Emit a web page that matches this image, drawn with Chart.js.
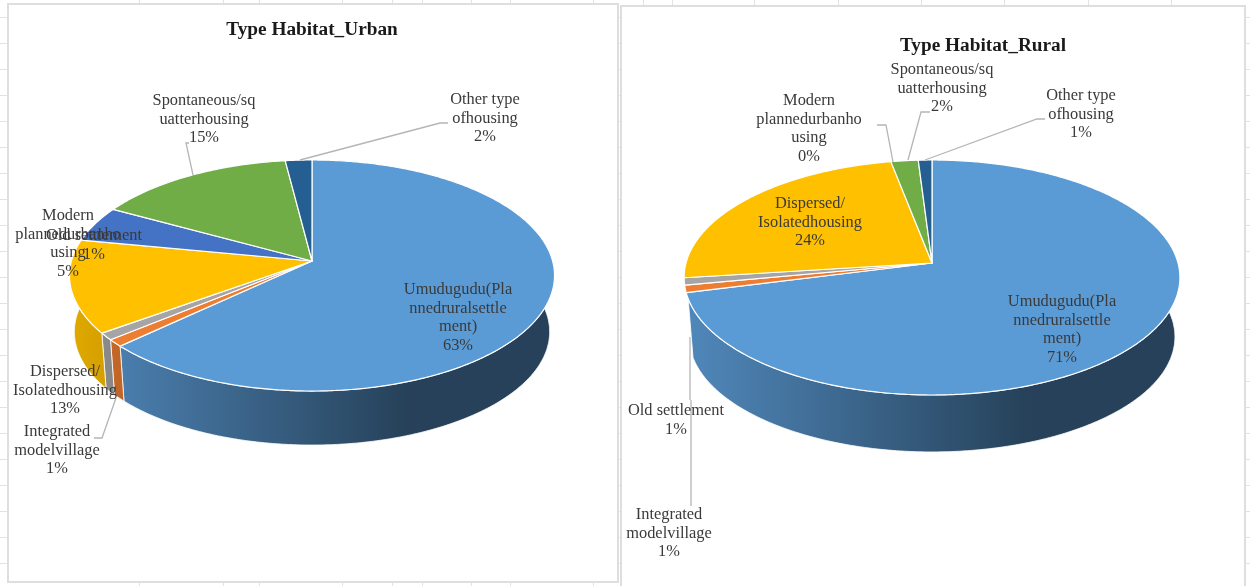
<!DOCTYPE html>
<html>
<head>
<meta charset="utf-8">
<title>Type Habitat</title>
<script src="https://cdn.jsdelivr.net/npm/chart.js@4"></script>
<style>
  html, body { margin: 0; padding: 0; background: #fff; overflow: hidden; }
  #sheet { position: relative; width: 1250px; height: 586px; overflow: hidden; }
  .tick-h { position: absolute; left: 0; width: 1250px; height: 1px; background: #e2e2e2; }
  .tick-v { position: absolute; top: 0; width: 1px; height: 586px; background: #e2e2e2; }
  .panel { position: absolute; background: #fff; box-shadow: 0 0 0 2px #dedede; }
  .panel canvas { display: block; }
  #urban-panel { left: 9px; top: 5px; width: 608px; height: 576px; }
  #rural-panel { left: 622px; top: 7px; width: 622px; height: 590px; }
</style>
</head>
<body>
<div id="sheet">
  <div class="panel" id="urban-panel"><canvas id="urban-chart" width="608" height="576"></canvas></div>
  <div class="panel" id="rural-panel"><canvas id="rural-chart" width="622" height="590"></canvas></div>
</div>
<script>
const categories = [
  ["Umudugudu(Pla", "nnedruralsettle", "ment)"],
  ["Integrated", "modelvillage"],
  ["Old settlement"],
  ["Dispersed/", "Isolatedhousing"],
  ["Modern", "plannedurbanho", "using"],
  ["Spontaneous/sq", "uatterhousing"],
  ["Other type", "ofhousing"],
];
const urbanValues = [63, 1, 1, 13, 5, 15, 2];
const ruralValues = [71, 1, 1, 24, 0, 2, 1];
const sliceColors = ["#5B9BD5", "#ED7D31", "#A5A5A5", "#FFC000", "#4472C4", "#70AD47", "#255E91"];

const FONT = '"Liberation Serif", serif';
const LABEL_SIZE = 16.4;
const LINE_HEIGHT = 18.6;

// spreadsheet gridlines that show around the two chart panels
const sheet = document.getElementById("sheet");
for (let y = 17; y < 586; y += 26) {
  const line = document.createElement("div");
  line.className = "tick-h";
  line.style.top = y + "px";
  sheet.prepend(line);
}
[139, 223, 259, 342, 392, 422, 471, 510, 593, 643, 672, 754, 838, 921, 1004, 1088, 1171].forEach((x) => {
  const line = document.createElement("div");
  line.className = "tick-v";
  line.style.left = x + "px";
  sheet.prepend(line);
});

function shade(hex, f) {
  const n = parseInt(hex.slice(1), 16);
  const c = [(n >> 16) & 255, (n >> 8) & 255, n & 255].map((v) => Math.round(v * f));
  return `rgb(${c[0]},${c[1]},${c[2]})`;
}

// Perspective view of the flat disc: angle -> canvas point, shrink/drop for the lower rim
function project(arc, tilt, angle, lower) {
  const u = Math.cos(angle);
  const v = Math.sin(angle);
  const w = 1 - tilt.k * v;
  const s = lower ? tilt.rimScale : 1;
  const drop = lower ? tilt.depth * arc.outerRadius : 0;
  return {
    x: arc.x + (s * tilt.stretchX * arc.outerRadius * u) / w,
    y: arc.y + drop + (s * tilt.stretchY * arc.outerRadius * v) / w,
  };
}

function arcPoints(arc, tilt, from, to, lower) {
  const steps = Math.max(2, Math.ceil((to - from) / 0.01));
  const pts = [];
  for (let i = 0; i <= steps; i++) {
    pts.push(project(arc, tilt, from + ((to - from) * i) / steps, lower));
  }
  return pts;
}

function tracePolygon(ctx, pts) {
  ctx.beginPath();
  pts.forEach((p, i) => (i ? ctx.lineTo(p.x, p.y) : ctx.moveTo(p.x, p.y)));
  ctx.closePath();
}

// Draws the arcs the pie controller laid out as a tilted 3D disc
const tiltedPie = {
  id: "tiltedPie",
  beforeDatasetDraw(chart, args, opts) {
    const ctx = chart.ctx;
    const arcs = chart.getDatasetMeta(args.index).data;
    const colors = chart.data.datasets[args.index].backgroundColor;
    const first = arcs[0];
    const left = first.x - opts.stretchX * first.outerRadius;
    const right = first.x + opts.stretchX * first.outerRadius;

    ctx.save();
    ctx.lineJoin = "round";

    // side wall, only the part facing the viewer
    arcs.forEach((arc, i) => {
      const from = Math.max(arc.startAngle, -0.35);
      const to = Math.min(arc.endAngle, opts.wallEnd);
      if (to <= from) return;
      const outline = arcPoints(arc, opts, from, to, false)
        .concat(arcPoints(arc, opts, from, to, true).reverse());
      const grad = ctx.createLinearGradient(left, 0, right, 0);
      grad.addColorStop(0, shade(colors[i], 0.88));
      grad.addColorStop(0.7, shade(colors[i], 0.42));
      grad.addColorStop(1, shade(colors[i], 0.42));
      tracePolygon(ctx, outline);
      ctx.fillStyle = grad;
      ctx.fill();
      ctx.strokeStyle = "#fff";
      ctx.lineWidth = 0.8;
      ctx.stroke();
    });

    // top face
    arcs.forEach((arc, i) => {
      if (arc.endAngle - arc.startAngle <= 0) return;
      const outline = [{ x: arc.x, y: arc.y }].concat(
        arcPoints(arc, opts, arc.startAngle, arc.endAngle, false)
      );
      tracePolygon(ctx, outline);
      ctx.fillStyle = colors[i];
      ctx.fill();
      ctx.strokeStyle = "#fff";
      ctx.lineWidth = 1.2;
      ctx.stroke();
    });

    ctx.restore();
    return false;
  },
  afterDatasetsDraw(chart, args, opts) {
    const ctx = chart.ctx;
    const dataset = chart.data.datasets[0];

    ctx.save();
    ctx.strokeStyle = "#b5b5b5";
    ctx.lineWidth = 1.3;
    opts.leaders.forEach((pts) => {
      ctx.beginPath();
      pts.forEach((p, i) => (i ? ctx.lineTo(p[0], p[1]) : ctx.moveTo(p[0], p[1])));
      ctx.stroke();
    });

    ctx.font = `${LABEL_SIZE}px ${FONT}`;
    ctx.textAlign = "center";
    ctx.textBaseline = "middle";
    opts.labelSpots.forEach((spot, i) => {
      const lines = chart.data.labels[i].concat(dataset.data[i] + "%");
      ctx.fillStyle = spot[2] || "#3a3a3a";
      lines.forEach((text, n) => {
        ctx.fillText(text, spot[0], spot[1] + n * LINE_HEIGHT);
      });
    });
    ctx.restore();
  },
  afterLayout(chart, args, opts) {
    // the title sits off-centre in its panel
    chart.titleBlock.left += opts.titleShift * 2;
  },
};

function makeChart(id, title, values, titlePad, padBottom, tilt) {
  return new Chart(document.getElementById(id), {
    type: "pie",
    data: {
      labels: categories,
      datasets: [{ data: values, backgroundColor: sliceColors, borderWidth: 0 }],
    },
    plugins: [tiltedPie],
    options: {
      responsive: false,
      animation: false,
      events: [],
      layout: { padding: { bottom: padBottom, right: 2 } },
      plugins: {
        legend: { display: false },
        tooltip: { enabled: false },
        title: {
          display: true,
          text: title,
          color: "#1a1a1a",
          font: { family: FONT, size: 19.3, weight: "bold", lineHeight: 1.2 },
          padding: { top: titlePad, bottom: 0 },
        },
        tiltedPie: tilt,
      },
    },
  });
}

// label spots are [centre x, first line y] in canvas pixels
makeChart("urban-chart", "Type Habitat_Urban", urbanValues, 13, 100.16, {
  k: 0.1256,
  stretchX: 1.0944,
  stretchY: 0.5172,
  depth: 0.2575,
  rimScale: 0.98,
  wallEnd: Math.PI + 0.35,
  titleShift: 0,
  labelSpots: [
    [449, 285],
    [48, 427],
    [85, 231],
    [56, 367],
    [59, 211],
    [195, 96],
    [476, 95],
  ],
  leaders: [
    [[291, 155], [431, 118], [439, 118]],
    [[184, 170], [177, 138], [180, 138]],
    [[107, 393], [93, 433], [85, 433]],
  ],
});

makeChart("rural-chart", "Type Habitat_Rural", ruralValues, 27, 128.16, {
  k: 0.1234,
  stretchX: 1.1951,
  stretchY: 0.5621,
  depth: 0.2895,
  rimScale: 0.98,
  wallEnd: 2.84,
  titleShift: 51,
  labelSpots: [
    [440, 295],
    [47, 508],
    [54, 404],
    [188, 197],
    [187, 94],
    [320, 63],
    [459, 89],
  ],
  leaders: [
    [[68, 330], [68, 393]],
    [[69, 393], [69, 499]],
    [[271, 155], [264, 118], [255, 118]],
    [[286, 153], [299, 105], [308, 105]],
    [[303, 153], [415, 112], [423, 112]],
  ],
});
</script>
</body>
</html>
